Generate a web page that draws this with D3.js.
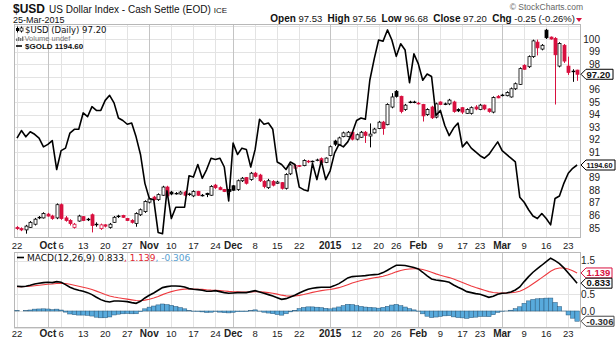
<!DOCTYPE html>
<html><head><meta charset="utf-8">
<script src="https://cdn.jsdelivr.net/npm/d3@7"></script>
<style>body{margin:0;background:#fff}svg{display:block;font-family:Arial,"Liberation Sans",sans-serif}</style>
</head><body><svg id="c" width="616" height="341"></svg>
<script>
// ---------- DATA ----------
const dates = [
"2014-09-22","2014-09-23","2014-09-24","2014-09-25","2014-09-26","2014-09-29","2014-09-30",
"2014-10-01","2014-10-02","2014-10-03","2014-10-06","2014-10-07","2014-10-08","2014-10-09","2014-10-10","2014-10-13","2014-10-14","2014-10-15","2014-10-16","2014-10-17","2014-10-20","2014-10-21","2014-10-22","2014-10-23","2014-10-24","2014-10-27","2014-10-28","2014-10-29","2014-10-30","2014-10-31",
"2014-11-03","2014-11-04","2014-11-05","2014-11-06","2014-11-07","2014-11-10","2014-11-11","2014-11-12","2014-11-13","2014-11-14","2014-11-17","2014-11-18","2014-11-19","2014-11-20","2014-11-21","2014-11-24","2014-11-25","2014-11-26","2014-11-28",
"2014-12-01","2014-12-02","2014-12-03","2014-12-04","2014-12-05","2014-12-08","2014-12-09","2014-12-10","2014-12-11","2014-12-12","2014-12-15","2014-12-16","2014-12-17","2014-12-18","2014-12-19","2014-12-22","2014-12-23","2014-12-24","2014-12-26","2014-12-29","2014-12-30","2014-12-31",
"2015-01-02","2015-01-05","2015-01-06","2015-01-07","2015-01-08","2015-01-09","2015-01-12","2015-01-13","2015-01-14","2015-01-15","2015-01-16","2015-01-20","2015-01-21","2015-01-22","2015-01-23","2015-01-26","2015-01-27","2015-01-28","2015-01-29","2015-01-30",
"2015-02-02","2015-02-03","2015-02-04","2015-02-05","2015-02-06","2015-02-09","2015-02-10","2015-02-11","2015-02-12","2015-02-13","2015-02-17","2015-02-18","2015-02-19","2015-02-20","2015-02-23","2015-02-24","2015-02-25","2015-02-26","2015-02-27",
"2015-03-02","2015-03-03","2015-03-04","2015-03-05","2015-03-06","2015-03-09","2015-03-10","2015-03-11","2015-03-12","2015-03-13","2015-03-16","2015-03-17","2015-03-18","2015-03-19","2015-03-20","2015-03-23","2015-03-24","2015-03-25"];

const open = [85.05,84.95,84.85,85.05,85.30,85.85,85.80,86.10,85.95,85.80,
86.85,85.80,85.60,85.05,85.55,85.90,85.65,86.05,85.30,84.95,
85.25,85.05,85.45,85.90,86.00,85.75,85.60,85.35,86.05,86.30,
87.05,87.45,87.25,87.60,88.25,87.85,87.75,87.70,87.85,87.70,
87.55,87.90,87.60,87.75,87.60,88.40,88.20,88.05,88.05,88.35,
88.05,88.75,89.00,88.85,89.35,89.20,88.70,88.20,88.70,88.55,
88.60,88.15,89.30,89.75,89.95,89.95,90.30,90.25,90.35,90.50,
90.20,90.75,91.90,91.60,92.25,92.25,92.60,92.05,92.20,92.60,
92.30,92.55,92.90,93.40,93.20,94.60,95.85,95.45,94.40,94.95,
95.00,94.90,94.80,94.00,94.60,93.80,95.00,94.85,94.85,95.00,
94.40,94.55,94.10,94.10,94.60,94.40,94.75,94.45,94.20,95.45,
95.55,95.50,95.40,96.05,96.40,97.90,97.80,98.60,99.75,99.20,
100.70,100.15,100.05,97.85,99.50,97.85,97.40,97.53];
const high = [85.15,85.05,85.25,85.55,85.80,85.95,86.25,86.20,86.05,86.95,
86.95,85.95,85.70,85.40,86.05,85.95,85.80,86.15,85.45,85.35,
85.30,85.40,85.95,86.05,86.05,85.80,85.70,86.25,86.55,87.20,
87.45,87.55,87.75,88.35,88.35,87.95,87.85,87.95,87.95,87.80,
88.00,87.95,87.70,87.80,88.40,88.50,88.30,88.10,88.15,88.40,
88.85,89.05,89.05,89.45,89.45,89.30,88.80,88.90,88.80,88.75,
88.65,89.35,90.10,90.05,90.00,90.45,90.40,90.35,90.50,90.60,
90.60,91.55,92.00,92.25,92.65,92.70,92.70,92.50,92.70,92.70,
93.30,92.95,93.50,93.50,94.90,95.70,95.95,95.50,94.85,95.10,
95.10,95.00,94.85,94.50,94.70,94.95,95.05,94.95,95.25,95.10,
94.50,94.60,94.50,94.65,94.75,94.85,94.80,94.50,95.45,95.55,
95.65,95.85,96.15,96.55,97.75,98.00,98.70,99.95,99.95,99.60,
100.80,100.20,100.15,99.75,99.60,98.60,97.60,97.56];
const low = [84.85,84.75,84.55,85.00,85.20,85.70,85.75,85.90,85.65,85.70,
85.65,85.50,85.20,84.95,85.50,85.55,85.55,84.65,85.10,84.85,
85.05,84.95,85.40,85.80,85.80,85.55,85.35,85.10,85.95,86.20,
86.95,87.15,87.15,87.55,87.45,87.60,87.65,87.65,87.50,87.55,
87.45,87.55,87.50,87.45,87.55,88.10,88.00,87.85,87.80,87.95,
87.95,88.65,88.45,88.75,89.00,88.65,88.15,88.10,88.30,88.50,
88.05,88.05,89.20,89.65,89.85,89.90,90.15,90.20,90.30,90.15,
90.15,90.70,91.50,91.55,92.20,92.20,91.95,91.95,92.15,91.75,
91.40,92.50,92.85,92.40,93.15,94.50,95.35,94.10,94.30,94.90,
94.90,94.80,93.45,93.90,93.65,93.70,94.75,94.75,94.75,94.15,
94.20,94.05,94.05,94.00,94.35,94.35,94.35,94.15,94.10,95.30,
95.45,95.45,95.35,95.95,96.35,97.55,97.70,98.50,98.70,99.10,
100.00,99.95,94.80,97.75,98.10,97.15,96.60,96.68];
const close = [84.95,84.85,85.15,85.45,85.70,85.80,86.15,85.95,85.75,86.85,
85.75,85.60,85.35,85.30,85.95,85.60,85.70,85.20,85.30,85.25,
85.15,85.30,85.85,85.95,85.85,85.60,85.45,86.15,86.45,87.10,
87.30,87.25,87.65,88.25,87.55,87.70,87.75,87.85,87.60,87.65,
87.90,87.60,87.60,87.65,88.30,88.20,88.05,87.90,87.90,88.00,
88.75,88.95,88.55,89.35,89.10,88.75,88.30,88.75,88.40,88.65,
88.15,89.25,90.00,89.95,89.90,90.35,90.25,90.30,90.40,90.20,
90.55,91.45,91.65,92.15,92.55,92.60,92.05,92.40,92.60,92.35,
92.45,92.85,93.40,92.90,94.80,95.40,95.45,94.25,94.75,95.00,
95.00,94.85,93.90,94.40,93.75,94.85,94.80,94.85,95.15,94.25,
94.30,94.20,94.40,94.55,94.45,94.75,94.45,94.25,95.35,95.33,
95.55,95.75,96.05,96.45,97.65,97.60,98.60,99.85,99.30,99.50,
100.10,100.00,98.75,99.65,98.25,97.35,97.45,97.20];

const gold = [1216,1222,1217,1221,1219,1216,1209,1211,1214,1191,
1206,1208,1220,1223,1223,1236,1233,1241,1238,1238,
1246,1250,1244,1232,1230,1227,1228,1217,1203,1180,
1168,1167,1141,1140,1174,1152,1161,1161,1161,1186,
1185,1195,1184,1191,1200,1199,1200,1193,1166,1212,
1203,1208,1207,1193,1207,1231,1227,1228,1223,1197,
1195,1191,1197,1195,1177,1175,1174,1196,1183,1198,
1183,1190,1204,1211,1209,1213,1220,1230,1232,1231,
1262,1279,1294,1293,1302,1294,1281,1291,1286,1260,
1283,1275,1262,1267,1265,1234,1238,1226,1218,1224,
1228,1209,1213,1208,1205,1202,1200,1203,1208,1213,
1206,1203,1200,1197,1169,1165,1159,1154,1152,1156,
1152,1147,1168,1170,1180,1188,1192,1194.6];

const macd = [0.74,0.73,0.74,0.77,0.81,0.83,0.85,0.86,0.85,0.88,
0.86,0.79,0.71,0.66,0.62,0.59,0.55,0.49,0.41,0.34,
0.29,0.27,0.30,0.30,0.29,0.28,0.25,0.23,0.29,0.39,
0.47,0.54,0.62,0.70,0.73,0.75,0.75,0.74,0.72,0.67,
0.65,0.64,0.62,0.59,0.59,0.61,0.58,0.55,0.53,0.54,
0.55,0.55,0.55,0.58,0.61,0.57,0.53,0.49,0.45,0.40,
0.35,0.37,0.42,0.47,0.54,0.60,0.65,0.68,0.70,0.71,
0.71,0.71,0.76,0.82,0.90,0.99,1.03,1.04,1.05,1.06,
1.08,1.09,1.10,1.15,1.22,1.30,1.37,1.37,1.36,1.33,
1.30,1.26,1.16,1.05,0.96,0.93,0.91,0.89,0.86,0.78,
0.71,0.65,0.58,0.55,0.52,0.50,0.46,0.41,0.44,0.50,
0.53,0.54,0.57,0.63,0.72,0.88,1.03,1.16,1.27,1.37,
1.48,1.58,1.51,1.42,1.29,1.14,0.99,0.833];
const signal = [0.73,0.73,0.732,0.740,0.754,0.769,0.785,0.800,0.810,0.824,
0.831,0.823,0.800,0.772,0.742,0.712,0.679,0.641,0.595,0.544,
0.493,0.449,0.419,0.395,0.374,0.355,0.334,0.313,0.309,0.325,
0.354,0.391,0.437,0.490,0.538,0.580,0.614,0.639,0.655,0.658,
0.657,0.653,0.647,0.635,0.626,0.623,0.614,0.601,0.587,0.578,
0.572,0.568,0.564,0.567,0.576,0.575,0.566,0.551,0.531,0.505,
0.474,0.453,0.446,0.451,0.469,0.495,0.526,0.557,0.586,0.610,
0.630,0.646,0.669,0.699,0.739,0.789,0.838,0.878,0.912,0.942,
0.969,0.994,1.015,1.042,1.078,1.122,1.172,1.211,1.241,1.259,
1.267,1.266,1.245,1.206,1.157,1.111,1.071,1.035,1.000,0.956,
0.907,0.856,0.800,0.750,0.704,0.663,0.623,0.580,0.552,0.542,
0.539,0.539,0.546,0.562,0.594,0.651,0.727,0.814,0.905,0.998,
1.094,1.192,1.255,1.288,1.289,1.259,1.205,1.139];

const tickDates = ["2014-09-22","2014-10-01","2014-10-06","2014-10-13","2014-10-20","2014-10-27","2014-11-03","2014-11-10","2014-11-17","2014-11-24","2014-12-01","2014-12-08","2014-12-15","2014-12-22","2015-01-02","2015-01-12","2015-01-20","2015-01-26","2015-02-02","2015-02-09","2015-02-17","2015-02-23","2015-03-02","2015-03-09","2015-03-16","2015-03-23"];
const tickLabels = ["22","Oct","6","13","20","27","Nov","10","17","24","Dec","8","15","22","2015","12","20","26","Feb","9","17","23","Mar","9","16","23"];
const monthTicks = ["2014-10-01","2014-11-03","2014-12-01","2015-01-02","2015-02-02","2015-03-02"];
// labels visible on the right axis (90, 97 and 1.0 sit under the value badges)
const priceTicks = [85,86,87,88,89,91,92,93,94,95,96,98,99,100];
const priceGrid = [85,86,87,88,89,90,91,92,93,94,95,96,97,98,99,100,101];
const macdTicks = [0,0.5,1.5];
const macdGrid = [-0.5,0,0.5,1.0,1.5];

// ---------- LAYOUT ----------
const svg = d3.select("#c");
const L = 14, R = 581;
const mTop = 24, mBot = 238, dTop = 252, dBot = 328;
const RED = "#d8103f";

const x = d3.scaleBand().domain(dates).range([14.8, 579.3]).padding(0);
const cx = d => x(d) + x.step() / 2;
const yP = d3.scaleLinear().domain([85, 100]).range([228, 39]);
const yG = d3.scaleLinear().domain([1144.5, 1294.8]).range([228, 39]);
const yM = d3.scaleLinear().domain([0, 1.5]).range([311, 260.9]);

const defs = svg.append("defs");
defs.append("clipPath").attr("id", "cm").append("rect").attr("x", L).attr("y", mTop).attr("width", R - L).attr("height", mBot - mTop);
defs.append("clipPath").attr("id", "cd").append("rect").attr("x", L).attr("y", dTop).attr("width", R - L).attr("height", dBot - dTop);

// ---------- HEADER ----------
const title = svg.append("text").attr("x", 13).attr("y", 12.5).attr("fill", "#111");
title.append("tspan").attr("font-size", 12).attr("font-weight", "bold").text("$USD");
title.append("tspan").attr("font-size", 10).attr("dx", 4).text("US Dollar Index - Cash Settle (EOD)");
title.append("tspan").attr("font-size", 8).attr("dx", 3).text("ICE");
svg.append("text").attr("x", 13).attr("y", 22.5).attr("font-size", 9).attr("fill", "#111").text("25-Mar-2015");
svg.append("text").attr("x", 583).attr("y", 9.5).attr("font-size", 8.5).attr("fill", "#666").attr("text-anchor", "end").text("\u00A9 StockCharts.com");
const hdr = svg.append("text").attr("x", 575).attr("y", 22).attr("font-size", 9.5).attr("fill", "#111").attr("text-anchor", "end");
[["Open", " 97.53  "], ["High", " 97.56  "], ["Low", " 96.68  "], ["Close", " 97.20  "], ["Chg", " -0.25 (-0.26%)"]].forEach(([k, v]) => {
  hdr.append("tspan").attr("font-weight", "bold").attr("font-size", 10).text(k);
  hdr.append("tspan").style("white-space", "pre").text(v);
});
svg.append("path").attr("d", "M576,18 L582,18 L579,22 Z").attr("fill", RED);

// ---------- GRIDS ----------
function grid(top, bot, yScale, vals) {
  const g = svg.append("g");
  g.selectAll("line.h").data(vals.filter(d => yScale(d) >= top && yScale(d) <= bot)).join("line")
    .attr("x1", L).attr("x2", R)
    .attr("y1", d => Math.round(yScale(d)) + 0.5).attr("y2", d => Math.round(yScale(d)) + 0.5)
    .attr("stroke", "#e3e3e3").attr("stroke-width", 1);
  g.selectAll("line.v").data(tickDates).join("line")
    .attr("x1", d => Math.round(cx(d)) + 0.5).attr("x2", d => Math.round(cx(d)) + 0.5)
    .attr("y1", top).attr("y2", bot)
    .attr("stroke", d => monthTicks.includes(d) ? "#c4c4c4" : "#e3e3e3").attr("stroke-width", 1);
  g.append("rect").attr("x", L + 0.5).attr("y", top + 0.5).attr("width", R - L - 1).attr("height", bot - top - 1)
    .attr("fill", "none").attr("stroke", "#b8b8b8");
}
grid(mTop, mBot, yP, priceGrid);
grid(dTop, dBot, yM, macdGrid);

// ---------- LEGENDS ----------
const lf = "'DejaVu Sans', Verdana, sans-serif";
svg.append("line").attr("x1", 17.5).attr("x2", 17.5).attr("y1", 26.5).attr("y2", 32.5).attr("stroke", "#000");
svg.append("rect").attr("x", 16).attr("y", 28).attr("width", 3).attr("height", 3).attr("fill", "#000");
svg.append("line").attr("x1", 21.5).attr("x2", 21.5).attr("y1", 26.5).attr("y2", 32.5).attr("stroke", "#000");
svg.append("rect").attr("x", 20).attr("y", 28).attr("width", 3).attr("height", 3).attr("fill", "#fff").attr("stroke", "#000").attr("stroke-width", 0.7);
svg.append("text").attr("x", 25).attr("y", 32.5).attr("font-family", lf).attr("font-size", 8.5).attr("fill", "#111").text("$USD (Daily) 97.20");
[[16, 38.5], [18, 37], [20, 38], [22, 36.5]].forEach(([a, b]) => svg.append("rect").attr("x", a).attr("y", b).attr("width", 1.4).attr("height", 41 - b).attr("fill", "#777"));
svg.append("text").attr("x", 24.5).attr("y", 41).attr("font-size", 7.5).attr("fill", "#777").text("Volume undef");
svg.append("line").attr("x1", 16).attr("x2", 22).attr("y1", 46).attr("y2", 46).attr("stroke", "#000").attr("stroke-width", 1.6);
svg.append("text").attr("x", 25).attr("y", 49).attr("font-size", 8).attr("font-weight", "bold").attr("fill", "#111").text("$GOLD 1194.60");

svg.append("line").attr("x1", 17).attr("x2", 24).attr("y1", 257.5).attr("y2", 257.5).attr("stroke", "#000").attr("stroke-width", 1.6);
const ml = svg.append("text").attr("x", 27).attr("y", 260.5).attr("font-family", lf).attr("font-size", 9);
ml.append("tspan").attr("fill", "#111").text("MACD(12,26,9) 0.833");
ml.append("tspan").attr("fill", "#e02530").text(", 1.139");
ml.append("tspan").attr("fill", "#5aa0d0").text(", -0.306");

// ---------- MAIN PANEL ----------
const gm = svg.append("g").attr("clip-path", "url(#cm)");
const bars = dates.map((d, i) => ({ d, o: open[i], h: high[i], l: low[i], c: close[i],
  up: i > 0 ? close[i] >= close[i - 1] : close[i] >= open[i] }));
const cg = gm.selectAll("g.cdl").data(bars).join("g");
cg.append("line")
  .attr("x1", b => Math.round(cx(b.d)) + 0.5).attr("x2", b => Math.round(cx(b.d)) + 0.5)
  .attr("y1", b => yP(b.h)).attr("y2", b => yP(b.l))
  .attr("stroke", b => b.up ? "#000" : RED).attr("stroke-width", 1);
cg.append("rect")
  .attr("x", b => Math.round(cx(b.d)) - 1)
  .attr("y", b => yP(Math.max(b.o, b.c)))
  .attr("width", 3)
  .attr("height", b => Math.max(Math.abs(yP(b.o) - yP(b.c)), 0.6))
  .attr("fill", b => b.c > b.o ? "#fff" : (b.up ? "#000" : RED))
  .attr("stroke", b => b.up ? "#000" : RED).attr("stroke-width", 0.8);

const goldLine = d3.line().x((g, i) => cx(dates[i])).y(g => yG(g));
gm.append("path").datum(gold).attr("d", goldLine).attr("fill", "none").attr("stroke", "#000").attr("stroke-width", 1.6).attr("stroke-linejoin", "round");

// ---------- MACD PANEL ----------
const gd = svg.append("g").attr("clip-path", "url(#cd)");
const hist = macd.map((m, i) => m - signal[i]);
gd.selectAll("rect.h").data(hist).join("rect")
  .attr("x", (h, i) => x(dates[i]))
  .attr("width", x.step())
  .attr("y", h => Math.min(yM(h), yM(0)))
  .attr("height", h => Math.abs(yM(h) - yM(0)))
  .attr("fill", "#58aadc").attr("stroke", "#27577a").attr("stroke-width", 0.5);
gd.append("path").datum(signal).attr("d", d3.line().x((v, i) => cx(dates[i])).y(v => yM(v)))
  .attr("fill", "none").attr("stroke", "#ee3a3f").attr("stroke-width", 1.1);
gd.append("path").datum(macd).attr("d", d3.line().x((v, i) => cx(dates[i])).y(v => yM(v)))
  .attr("fill", "none").attr("stroke", "#000").attr("stroke-width", 1.6);

// ---------- AXES ----------
function dateAxis(yPos) {
  const ax = d3.axisBottom(x).tickValues(tickDates).tickSize(0).tickPadding(0)
    .tickFormat(d => tickLabels[tickDates.indexOf(d)]);
  const g = svg.append("g").attr("transform", `translate(0,${yPos})`).call(ax);
  g.select(".domain").remove();
  g.selectAll("text").attr("font-size", d => monthTicks.includes(d) ? 10 : 9.5)
    .attr("font-weight", d => (monthTicks.includes(d)) ? "bold" : null)
    .attr("font-family", "Arial, 'Liberation Sans', sans-serif").attr("fill", "#222").attr("dy", "0");
}
dateAxis(249);
dateAxis(337);

svg.append("g").selectAll("text").data(priceTicks).join("text")
  .attr("x", 600).attr("y", d => yP(d) + 3.5).attr("text-anchor", "end")
  .attr("font-size", 10).attr("fill", "#222").text(d => d);
svg.append("g").selectAll("text").data(macdTicks).join("text")
  .attr("x", 595).attr("y", d => yM(d) + 3.5).attr("text-anchor", "end")
  .attr("font-size", 10).attr("fill", "#222").text(d => d.toFixed(1));

// ---------- BADGES ----------
function badge(yv, label, stroke, color, w, fs, fit) {
  const x0 = 581, h = 5;
  const g = svg.append("g");
  g.append("path").attr("d", `M${x0},${yv} L${x0 + 5},${yv - h} L${x0 + w},${yv - h} L${x0 + w},${yv + h} L${x0 + 5},${yv + h} Z`)
    .attr("fill", "#fff").attr("stroke", stroke).attr("stroke-width", 1);
  const t = g.append("text").attr("x", x0 + 5.5).attr("y", yv + 3.3).attr("font-size", fs).attr("font-weight", "bold")
    .attr("fill", color).text(label);
  if (fit) t.attr("textLength", fit).attr("lengthAdjust", "spacingAndGlyphs");
}
badge(yP(close[close.length - 1]), "97.20", "#000", "#111", 32, 9.5);
badge(yG(gold[gold.length - 1]), "1194.60", "#000", "#111", 34, 8, 26);
badge(yM(signal[signal.length - 1]), "1.139", RED, RED, 31, 9.5);
badge(yM(macd[macd.length - 1]), "0.833", "#000", "#111", 31, 9.5);
badge(yM(hist[hist.length - 1]), "-0.306", "#444", "#333", 33, 9.5);
</script>
</body></html>
